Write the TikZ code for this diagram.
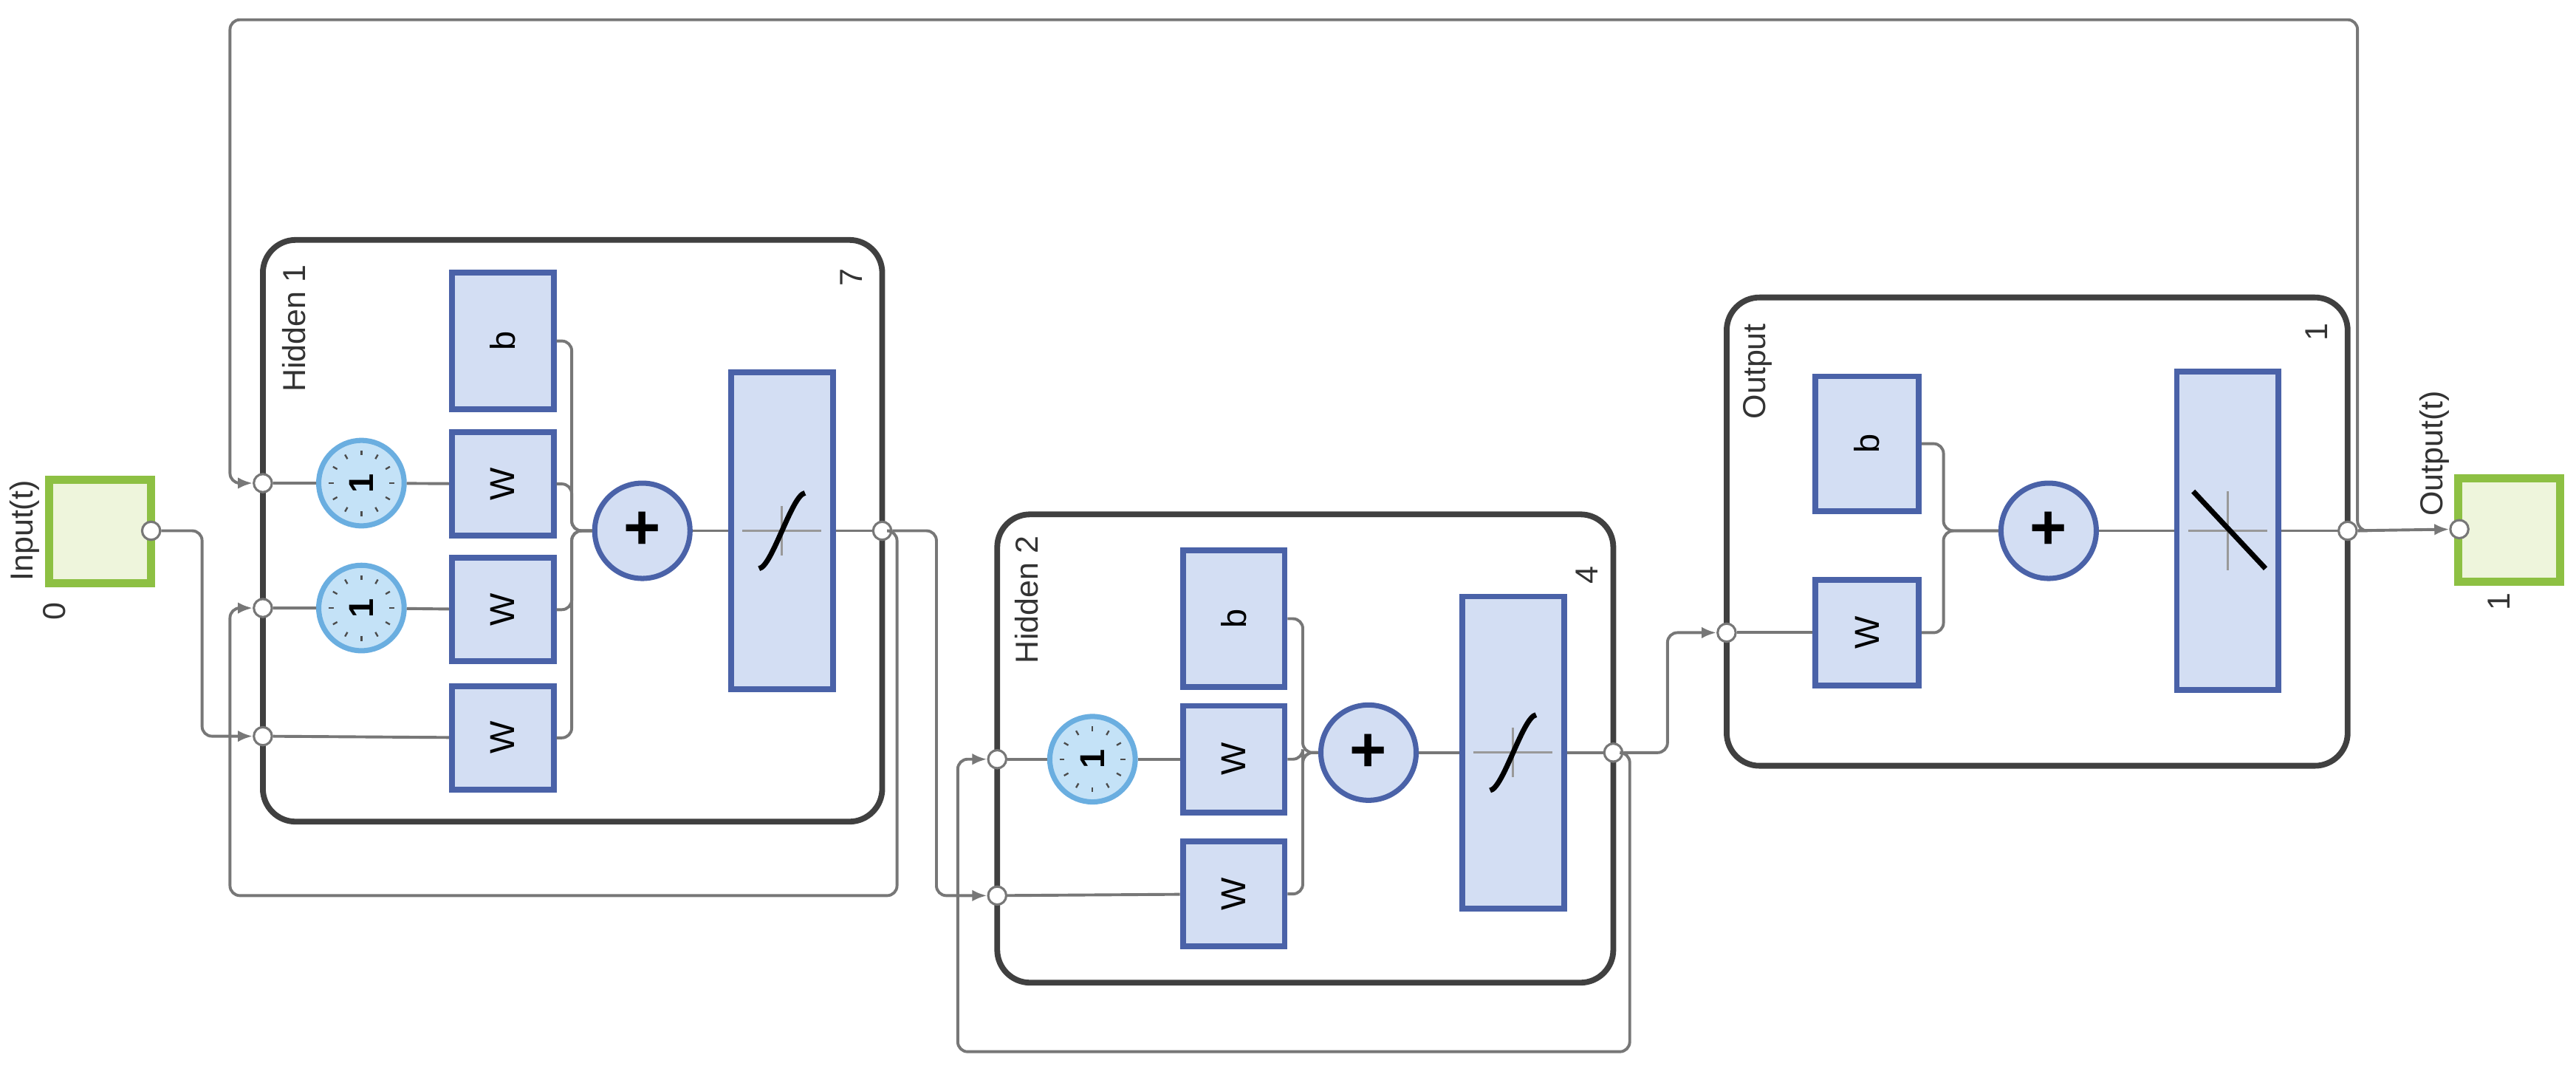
\documentclass[tikz,border=0pt]{standalone}
\usepackage{fontspec}
\setmainfont{Liberation Sans}
\usetikzlibrary{arrows.meta}
\definecolor{bfill}{HTML}{D3DEF3}
\definecolor{bdraw}{HTML}{4A62A8}
\definecolor{gfill}{HTML}{EEF5DC}
\definecolor{gdraw}{HTML}{8DC043}
\definecolor{cfill}{HTML}{C4E2F7}
\definecolor{cdraw}{HTML}{6AAEE0}
\definecolor{wcol}{HTML}{777777}
\tikzset{
 layer/.style={draw=black!75, line width=1pt, rounded corners=2mm, fill=white},
 blk/.style={draw=bdraw, fill=bfill, line width=1pt, minimum width=6.2mm, font=\fontsize{6}{7}\selectfont},
 io/.style={draw=gdraw, fill=gfill, line width=1.4pt, minimum width=6.2mm, minimum height=6.3mm},
 clk/.style={circle, draw=cdraw, fill=cfill, line width=0.9pt, minimum size=5.2mm, inner sep=0pt, font=\bfseries\fontsize{6}{7}\selectfont},
 sum/.style={circle, draw=bdraw, fill=bfill, line width=0.9pt, minimum size=5.8mm, inner sep=0pt, font=\bfseries\fontsize{11}{12}\selectfont},
 port/.style={circle, draw=wcol, fill=white, line width=0.4pt, minimum size=1.1mm, inner sep=0pt},
 wire/.style={draw=wcol, line width=0.5pt, rounded corners=0.6mm},
 arr/.style={-{Latex[length=0.9mm,width=0.7mm]}},
 lbl/.style={rotate=90, font=\fontsize{5.5}{6}\selectfont, text=black!80},
}
\begin{document}
\begin{tikzpicture}[x=0.1mm, y=-0.1mm]
\useasboundingbox (0,0) rectangle (1568,657);
% layers
\node[layer, minimum width=37.7mm, minimum height=35.4mm] (h1) at (348.5,323) {};
\node[layer, minimum width=37.5mm, minimum height=28.5mm] (h2) at (794.5,455.5) {};
\node[layer, minimum width=37.8mm, minimum height=28.5mm] (ol) at (1240,323.5) {};
\node[lbl] (lh1) at (179,200) {Hidden 1};
\node[lbl] (n7) at (518,169) {7};
\node[lbl] (lh2) at (625,365) {Hidden 2};
\node[lbl] (n4) at (966,350) {4};
\node[lbl] (lo) at (1070,226) {Output};
\node[lbl] (n1) at (1410,202) {1};
% io
\node[io] (inb) at (61,323.5) {};
\node[io] (outb) at (1527.5,322.5) {};
\node[lbl] (lin) at (15,323) {Input(t)};
\node[lbl] (l0) at (33,372) {0};
\node[lbl] (lout) at (1482,276) {Output(t)};
\node[lbl] (l1) at (1521,366) {1};
% hidden 1
\node[blk, minimum height=8.3mm] (b1) at (306,207.5) {\rotatebox{90}{b}};
\node[blk, minimum height=6.3mm] (w11) at (306,294.5) {\rotatebox{90}{W}};
\node[blk, minimum height=6.3mm] (w12) at (306,371) {\rotatebox{90}{W}};
\node[blk, minimum height=6.3mm] (w13) at (306,449) {\rotatebox{90}{W}};
\node[clk] (c11) at (220,294) {\rotatebox{90}{1}};
\node[clk] (c12) at (220,370) {\rotatebox{90}{1}};
\node[sum] (s1) at (391,323) {+};
\node[blk, minimum height=19.3mm] (t1) at (476,323) {};
% hidden 2
\node[blk, minimum height=8.3mm] (b2) at (751,376.5) {\rotatebox{90}{b}};
\node[blk, minimum height=6.5mm] (w21) at (751,462) {\rotatebox{90}{W}};
\node[blk, minimum height=6.4mm] (w22) at (751,544) {\rotatebox{90}{W}};
\node[clk] (c2) at (665,462) {\rotatebox{90}{1}};
\node[sum] (s2) at (833,458) {+};
\node[blk, minimum height=19mm] (t2) at (921,458) {};
% output layer
\node[blk, minimum height=8.2mm, minimum width=6.3mm] (b3) at (1136.5,270) {\rotatebox{90}{b}};
\node[blk, minimum height=6.4mm, minimum width=6.3mm] (w3) at (1136.5,385) {\rotatebox{90}{W}};
\node[sum] (s3) at (1247,323) {+};
\node[blk, minimum height=19.4mm] (t3) at (1356,323) {};
% clock ticks
\foreach \c in {c11,c12,c2}{
  \foreach \a in {0,30,...,330}
    \draw[black!70, line width=0.3pt] ([shift={(\a:1.7mm)}]\c.center) -- ([shift={(\a:2.0mm)}]\c.center);
}
% transfer symbols
\foreach \t in {t1,t2}{
  \draw[black!40, line width=0.4pt] ([xshift=-2.4mm]\t.center) -- ([xshift=2.4mm]\t.center);
  \draw[black!40, line width=0.4pt] ([yshift=-1.5mm]\t.center) -- ([yshift=1.5mm]\t.center);
  \draw[black, line width=0.9pt] ([shift={(-1.4mm,-2.3mm)}]\t.center) .. controls ([shift={(-0.6mm,-2.2mm)}]\t.center) and ([shift={(0.6mm,2.2mm)}]\t.center) .. ([shift={(1.4mm,2.3mm)}]\t.center);
}
\draw[black!40, line width=0.4pt] ([xshift=-2.4mm]t3.center) -- ([xshift=2.4mm]t3.center);
\draw[black!40, line width=0.4pt] ([yshift=-2.4mm]t3.center) -- ([yshift=2.4mm]t3.center);
\draw[black, line width=0.9pt] ([shift={(-2.1mm,2.4mm)}]t3.center) -- ([shift={(2.3mm,-2.3mm)}]t3.center);
% ports
\node[port] (pin) at (92,323) {};
\node[port] (p11) at (160,294) {};
\node[port] (p12) at (160,370) {};
\node[port] (p13) at (160,448) {};
\node[port] (p1o) at (537,323) {};
\node[port] (p21) at (607,462) {};
\node[port] (p22) at (607,545) {};
\node[port] (p2o) at (982,458) {};
\node[port] (p3i) at (1051,385) {};
\node[port] (p3o) at (1429,323) {};
\node[port] (pout) at (1497,322) {};
% external wires
\draw[wire, arr] (pin) -- (123,323) -- (123,448) -- (p13);
\draw[wire, arr] (p3o) -- (1435,323) -- (1435,12) -- (140,12) -- (140,294) -- (p11);
\draw[wire, arr] (p3o) -- (pout);
\draw[wire, arr] (p1o) -- (546,323) -- (546,545) -- (140,545) -- (140,370) -- (p12);
\draw[wire, arr] (p1o) -- (570,323) -- (570,545) -- (p22);
\draw[wire, arr] (p2o) -- (992,458) -- (992,640) -- (583,640) -- (583,462) -- (p21);
\draw[wire, arr] (p2o) -- (1015,458) -- (1015,385) -- (p3i);
% hidden 1 internal
\draw[wire] (p11) -- (c11) -- (w11);
\draw[wire] (p12) -- (c12) -- (w12);
\draw[wire] (p13) -- (w13);
\foreach \n in {b1,w11,w12,w13}
  \draw[wire] (\n.east) -| (348,323) -- (s1.west);
\draw[wire] (s1) -- (t1) -- (p1o);
% hidden 2 internal
\draw[wire] (p21) -- (c2) -- (w21);
\draw[wire] (p22) -- (w22);
\foreach \n in {b2,w21,w22}
  \draw[wire] (\n.east) -| (793,458) -- (s2.west);
\draw[wire] (s2) -- (t2) -- (p2o);
% output internal
\draw[wire] (p3i) -- (w3);
\foreach \n in {b3,w3}
  \draw[wire] (\n.east) -| (1183,323) -- (s3.west);
\draw[wire] (s3) -- (t3) -- (p3o);
\end{tikzpicture}
\end{document}
